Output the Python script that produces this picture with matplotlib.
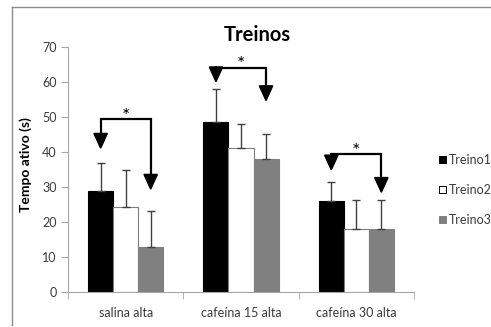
import matplotlib
matplotlib.use("Agg")
import matplotlib.pyplot as plt
from matplotlib.patches import Polygon
from matplotlib.lines import Line2D
import numpy as np

plt.rcParams['font.family'] = ['Lato', 'DejaVu Sans']

categories = ["salina alta", "cafeína 15 alta", "cafeína 30 alta"]
series = ["Treino1", "Treino2", "Treino3"]
treino1 = [28.9, 48.7, 26.1]
treino2 = [24.4, 41.2, 18.0]
treino3 = [12.8, 37.9, 17.9]
err1 = [7.9, 9.3, 5.4]
err2 = [10.5, 6.9, 8.3]
err3 = [10.4, 7.3, 8.4]
# brackets: group, bracket height, left arrow tip, right arrow tip
bracket_y = [49.4, 64.1, 39.4]
left_tip = [41.1, 60.1, 34.9]
right_tip = [29.4, 54.7, 28.5]
yticks = [0, 10, 20, 30, 40, 50, 60, 70]

fig = plt.figure(figsize=(4.91, 3.27), dpi=100)
ax = fig.add_axes([68/491, 1-292/327, (414-68)/491, (292-47)/327])

x = np.arange(len(categories))
w = 0.217
ecol = '#404040'
ekw = dict(ecolor=ecol, elinewidth=1.0, capsize=3, capthick=1.0)
vals = [treino1, treino2, treino3]
errs = [err1, err2, err3]
faces = ['black', 'white', '#808080']
edges = ['black', '#7f7f7f', '#808080']
for i in range(3):
    ax.bar(x + (i-1)*w, vals[i], w, color=faces[i], edgecolor=edges[i], linewidth=0.8,
           yerr=[np.zeros(3), errs[i]], error_kw=ekw, label=series[i], zorder=2)

ax.set_xlim(-0.5, 2.5)
ax.set_ylim(0, 70)
ax.set_yticks(yticks)
ax.set_xticks(x)
ax.set_xticklabels(categories)
ax.set_xticks(np.arange(-0.5, 3, 1), minor=True)
ax.tick_params(axis='x', which='major', length=0, pad=11, labelsize=9, labelcolor='#3a3a3a')
ax.tick_params(axis='x', which='minor', length=5, color='#a6a6a6', direction='out')
ax.tick_params(axis='y', length=5, color='#a6a6a6', labelsize=9, labelcolor='#3a3a3a', pad=3)
for s in ['top', 'right']:
    ax.spines[s].set_visible(False)
for s in ['left', 'bottom']:
    ax.spines[s].set_color('#a6a6a6')
    ax.spines[s].set_linewidth(0.8)

ax.set_ylabel("Tempo ativo (s)", fontsize=10, fontweight='bold')
ax.yaxis.set_label_coords(-(68-32)/346, (292-165)/245)

# brackets with arrows
tri_h = 4.2
tri_hw = 0.058
for g in range(3):
    xl = x[g] - w
    xr = x[g] + w
    yb = bracket_y[g]
    ltop = left_tip[g] + tri_h
    rtop = right_tip[g] + tri_h
    ax.plot([xl, xl, xr, xr], [ltop, yb, yb, rtop], color='black', lw=1.6,
            solid_joinstyle='miter', zorder=3)
    for xc, tip in [(xl, left_tip[g]), (xr, right_tip[g])]:
        ax.add_patch(Polygon([[xc - tri_hw, tip + tri_h], [xc + tri_hw, tip + tri_h], [xc, tip]],
                             closed=True, color='black', zorder=3))
    ax.text(x[g], yb - 1.6, "*", ha='center', va='bottom', fontsize=14, zorder=3)

fig.text(257/491, 1-35/327, "Treinos", ha='center', va='center', fontsize=14.5, fontweight='bold')

handles = [plt.Rectangle((0, 0), 1, 1, facecolor=faces[i], edgecolor='black' if i == 1 else edges[i], linewidth=0.7) for i in range(3)]
fig.legend(handles, series, loc='center left', bbox_to_anchor=(428/491, 1-190/327), frameon=False,
           fontsize=9, handlelength=0.5, handleheight=0.5, handletextpad=0.25, labelspacing=1.45,
           labelcolor='#3a3a3a')

# outer frame
fig.add_artist(Line2D([12/491, 12/491], [1-325/327, 1-6.5/327], color='#8c8c8c', lw=1.0))
fig.add_artist(Line2D([12/491, 1.0], [1-6.5/327, 1-6.5/327], color='#8c8c8c', lw=1.0))

fig.savefig("out.png", dpi=100)
